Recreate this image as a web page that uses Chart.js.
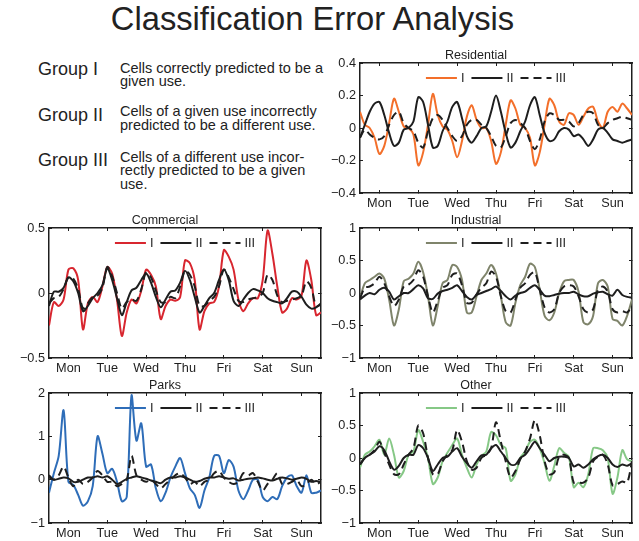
<!DOCTYPE html>
<html>
<head>
<meta charset="utf-8">
<script src="https://cdn.jsdelivr.net/npm/chart.js@4.4.1/dist/chart.umd.min.js"></script>
<style>
	body { margin: 0; width: 639px; height: 541px; background: #fff; position: relative; overflow: hidden;
		font-family: "Liberation Sans", Arial, sans-serif; color: #222; }
	#titulo { position: absolute; left: 0; top: 3px; width: 625px; text-align: center; font-size: 32.7px; line-height: 32.7px; white-space: nowrap; }
	.grupo { position: absolute; left: 38px; font-size: 18px; line-height: 18px; white-space: nowrap; }
	.desc { position: absolute; left: 120px; font-size: 14.5px; line-height: 13.3px; white-space: nowrap; }
	canvas { position: absolute; }
</style>
</head>
<body>
<div id="titulo">Classification Error Analysis</div>

<div class="grupo" style="top:60px">Group I</div>
<div class="desc" style="top:61.6px">Cells correctly predicted to be a<br>given use.</div>
<div class="grupo" style="top:105.5px">Group II</div>
<div class="desc" style="top:105.3px">Cells of a given use incorrectly<br>predicted to be a different use.</div>
<div class="grupo" style="top:150.8px">Group III</div>
<div class="desc" style="top:151px">Cells of a different use incor-<br>rectly predicted to be a given<br>use.</div>

<canvas id="graficoResidencial" width="320" height="180" style="left:315px;top:40px"></canvas>
<canvas id="graficoComercial" width="320" height="180" style="left:4px;top:205px"></canvas>
<canvas id="graficoIndustrial" width="320" height="180" style="left:315px;top:205px"></canvas>
<canvas id="graficoParques" width="320" height="180" style="left:4px;top:370px"></canvas>
<canvas id="graficoOutros" width="320" height="180" style="left:315px;top:370px"></canvas>

<script>
// horas desde segunda 00:00, amostradas de 3 em 3
var horas = [0,3,6,9,12,15,18,21,24,27,30,33,36,39,42,45,48,51,54,57,60,63,66,69,72,75,78,81,84,87,
	90,93,96,99,102,105,108,111,114,117,120,123,126,129,132,135,138,141,144,147,150,153,156,159,162,165,168];
var horasRotulos = [12, 36, 60, 84, 108, 132, 156];
var diasSemana = ['Mon', 'Tue', 'Wed', 'Thu', 'Fri', 'Sat', 'Sun'];
var nomesGrupos = ['I', 'II', 'III'];

var ticksResidencial = [-0.4, -0.2, 0, 0.2, 0.4];
var ticksComercial = [-0.5, 0, 0.5];
var ticksIndustrial = [-1, -0.5, 0, 0.5, 1];
var ticksParques = [-1, 0, 1, 2];
var ticksOutros = [-1, -0.5, 0, 0.5, 1];

var residencialI = [0.10,0.02,0.00,-0.06,-0.16,-0.11,0.03,0.18,0.10,0.01,
	0.00,-0.04,-0.23,-0.15,0.02,0.21,0.08,0.01,-0.01,-0.08,
	-0.18,-0.08,0.07,0.14,0.05,0.00,0.00,-0.08,-0.22,-0.15,
	0.02,0.17,0.12,0.02,0.00,-0.06,-0.23,-0.15,0.02,0.18,
	0.14,0.04,0.02,0.09,0.08,0.02,0.07,0.12,0.13,0.04,
	0.00,0.10,0.13,0.10,0.15,0.12,0.08];
var residencialII = [-0.06,0.02,0.10,0.15,0.16,0.08,-0.03,-0.11,-0.09,-0.01,
	0.00,0.04,0.19,0.16,0.02,-0.12,-0.11,-0.02,0.04,0.13,
	0.16,0.06,-0.05,-0.09,-0.05,0.00,0.01,0.10,0.20,0.10,
	-0.03,-0.12,-0.09,-0.02,0.04,0.14,0.19,0.08,-0.03,-0.08,
	-0.07,-0.02,0.00,-0.01,-0.05,-0.04,-0.07,-0.11,-0.07,-0.01,
	0.00,-0.03,-0.07,-0.08,-0.09,-0.08,-0.07];
var residencialIII = [-0.06,-0.01,-0.04,-0.06,-0.07,-0.05,0.02,0.08,0.10,0.03,
	0.00,-0.02,-0.09,-0.12,-0.02,0.06,0.08,0.05,0.00,-0.05,
	-0.08,-0.05,0.02,0.05,0.05,0.02,0.00,-0.05,-0.11,-0.12,
	-0.05,0.03,0.05,0.03,0.00,-0.08,-0.13,-0.07,0.04,0.09,
	0.08,0.05,0.05,0.04,0.01,0.03,0.08,0.10,0.09,0.02,
	0.00,0.03,0.05,0.06,0.07,0.06,0.05];

var comercialI = [-0.25,-0.07,-0.10,-0.05,0.18,0.19,0.10,-0.28,-0.08,-0.03,
	-0.07,0.05,0.20,0.15,-0.05,-0.33,-0.15,-0.05,-0.08,0.02,
	0.18,0.14,0.05,-0.20,-0.10,-0.05,-0.06,-0.03,0.25,0.23,
	0.10,-0.28,-0.14,-0.08,-0.07,0.05,0.33,0.28,0.18,-0.05,
	-0.14,-0.08,-0.04,-0.04,0.10,0.48,0.30,0.05,-0.15,-0.12,
	-0.04,-0.05,-0.02,0.25,0.10,-0.17,-0.15];
var comercialII = [-0.10,0.01,0.01,0.04,0.12,0.09,0.00,-0.14,-0.10,-0.04,
	0.00,0.06,0.19,0.10,-0.04,-0.17,-0.07,0.02,0.04,0.10,
	0.15,0.08,-0.03,-0.11,-0.05,0.01,0.02,0.08,0.17,0.10,
	-0.03,-0.15,-0.10,-0.04,0.00,0.10,0.18,0.10,-0.06,-0.10,
	-0.05,0.00,0.03,0.02,0.00,-0.04,-0.06,-0.07,-0.08,-0.04,
	0.01,0.01,-0.03,-0.09,-0.12,-0.11,-0.08];
var comercialIII = [-0.08,-0.04,-0.03,0.03,0.12,0.11,0.03,-0.12,-0.08,-0.03,
	-0.02,0.04,0.20,0.13,0.00,-0.12,-0.07,-0.05,-0.06,0.03,
	0.16,0.12,0.02,-0.07,-0.07,-0.03,-0.04,0.05,0.17,0.14,
	0.05,-0.10,-0.10,-0.06,-0.03,0.05,0.18,0.12,0.03,-0.06,
	-0.07,-0.05,-0.04,-0.03,0.00,0.14,0.10,-0.02,-0.07,-0.06,
	-0.05,-0.04,-0.02,0.09,0.04,-0.10,-0.09];

var industrialI = [-0.08,0.15,0.20,0.25,0.30,0.22,-0.10,-0.50,-0.25,0.18,
	0.22,0.30,0.48,0.32,-0.05,-0.50,-0.20,0.15,0.20,0.43,
	0.40,0.20,-0.30,-0.30,-0.05,0.20,0.30,0.43,0.30,-0.05,
	-0.45,-0.50,-0.15,0.12,0.25,0.45,0.40,0.05,-0.35,-0.42,
	-0.30,0.00,0.18,0.20,0.20,0.02,-0.45,-0.48,-0.35,0.15,
	0.20,0.10,-0.40,-0.43,-0.50,-0.35,-0.10];
var industrialII = [-0.10,-0.04,0.00,-0.02,0.05,0.08,0.02,-0.10,-0.05,0.00,
	0.00,0.06,0.12,0.07,-0.08,-0.09,-0.01,0.03,0.05,0.08,
	0.12,0.03,-0.06,-0.10,-0.03,0.00,0.03,0.06,0.10,0.03,
	-0.05,-0.10,-0.04,0.00,0.02,0.08,0.12,0.05,-0.04,-0.05,
	-0.03,-0.01,0.00,0.00,0.02,-0.02,-0.05,-0.05,-0.01,0.01,
	0.02,-0.02,-0.04,0.05,-0.03,-0.06,-0.07];
var industrialIII = [-0.08,0.08,0.10,0.15,0.25,0.15,-0.05,-0.20,-0.10,0.10,
	0.13,0.20,0.35,0.25,-0.05,-0.30,-0.12,0.08,0.12,0.28,
	0.30,0.12,-0.15,-0.15,-0.02,0.08,0.15,0.33,0.25,-0.05,
	-0.28,-0.30,-0.10,0.08,0.15,0.28,0.32,0.05,-0.22,-0.30,
	-0.25,0.00,0.10,0.12,0.10,-0.05,-0.25,-0.30,-0.25,0.05,
	0.10,0.02,-0.25,-0.30,-0.28,-0.30,-0.20];

var parquesI = [-0.30,0.15,0.55,1.60,-0.05,-0.12,-0.35,-0.60,-0.50,-0.15,
	1.00,0.60,0.15,0.25,-0.05,-0.50,-0.40,1.95,0.90,1.30,
	0.30,0.35,-0.20,-0.50,-0.30,0.05,0.30,0.50,0.15,-0.20,
	-0.35,-0.65,-0.25,0.05,0.55,0.55,0.15,0.45,0.30,-0.25,
	-0.45,-0.25,0.00,0.00,-0.40,-0.50,-0.40,-0.45,-0.15,0.05,
	0.10,-0.15,-0.30,0.10,-0.30,-0.30,-0.25];
var parquesII = [0.05,0.00,0.02,0.05,0.03,-0.05,-0.05,0.00,0.05,0.05,
	0.08,0.05,0.08,0.00,-0.10,-0.05,0.02,0.05,0.08,0.05,
	0.02,-0.02,-0.05,-0.08,0.00,0.05,0.05,0.08,0.05,0.00,
	-0.05,-0.03,0.02,0.05,0.05,0.08,0.05,0.02,0.03,-0.02,
	0.00,0.02,0.03,0.05,0.03,0.00,-0.02,0.02,0.05,0.03,
	0.00,0.02,0.05,0.02,-0.05,-0.03,-0.05];
var parquesIII = [0.10,0.00,0.10,0.30,0.05,-0.15,0.00,-0.10,-0.05,0.05,
	0.20,0.10,-0.05,-0.05,-0.15,-0.10,0.00,0.55,0.10,0.00,
	-0.05,0.00,-0.10,-0.20,-0.10,0.00,0.10,0.15,0.05,-0.10,
	-0.05,-0.15,-0.05,0.00,0.15,0.20,0.05,-0.05,-0.10,-0.05,
	0.15,0.10,0.15,-0.05,-0.25,-0.10,0.00,0.15,-0.10,-0.10,
	-0.05,0.00,-0.15,-0.10,0.00,-0.10,-0.05];

var outrosI = [-0.15,0.05,0.10,0.18,0.28,0.05,0.30,0.05,-0.30,-0.20,
	0.05,0.10,0.43,0.25,0.00,-0.40,-0.30,-0.05,0.08,0.20,
	0.30,0.05,-0.15,-0.30,-0.10,0.03,0.10,0.40,0.35,0.20,
	0.15,-0.35,-0.25,0.00,0.10,0.25,0.28,0.15,-0.08,-0.35,
	-0.12,0.15,0.08,0.02,-0.45,-0.38,-0.45,-0.25,0.15,0.15,
	0.12,0.00,-0.55,-0.30,0.12,-0.02,-0.05];
var outrosII = [-0.10,0.00,0.05,0.10,0.18,0.12,-0.05,-0.18,-0.12,0.00,
	0.05,0.05,0.20,0.15,0.00,-0.20,-0.10,0.00,0.02,0.10,
	0.15,0.02,-0.08,-0.15,-0.05,0.04,0.05,0.15,0.20,0.10,
	0.00,-0.10,-0.10,0.00,0.05,0.15,0.25,0.15,0.05,-0.05,
	0.00,0.02,0.02,0.00,-0.13,-0.10,-0.15,-0.10,-0.02,0.03,
	0.05,0.00,-0.10,-0.14,-0.10,-0.12,-0.08];
var outrosIII = [-0.10,0.00,0.05,0.12,0.25,0.08,-0.10,-0.25,-0.25,-0.10,
	0.05,0.15,0.50,0.38,0.00,-0.25,-0.25,-0.05,0.05,0.12,
	0.43,0.25,-0.05,-0.18,-0.15,0.00,0.05,0.15,0.55,0.25,
	-0.05,-0.30,-0.20,-0.02,0.10,0.30,0.58,0.35,-0.05,-0.25,
	-0.22,0.02,0.05,0.00,-0.38,-0.38,-0.38,-0.30,-0.05,0.02,
	0.05,-0.10,-0.42,-0.40,-0.36,-0.38,-0.05];

var Erro = Erro || {};

Erro.Painel = (function() {

	var PRETO = '#1e1e1e';
	var FONTE = '"Liberation Sans", Arial, sans-serif';

	// legenda desenhada dentro da area do grafico, como no matlab
	var legendaInterna = {
		id: 'legendaInterna',
		afterDatasetsDraw: function(chart) {
			var ctx = chart.ctx, area = chart.chartArea;
			var ds = chart.data.datasets;
			var linha = 31, folgaTexto = 4, folgaItem = 7;
			ctx.save();
			ctx.font = '12.7px ' + FONTE;
			var total = 0;
			ds.forEach(function(d, i) {
				total += linha + folgaTexto + ctx.measureText(d.label).width + (i < ds.length - 1 ? folgaItem : 0);
			});
			var x = (area.left + area.right) / 2 - total / 2;
			var y = area.top + 15;
			ds.forEach(function(d) {
				ctx.strokeStyle = d.borderColor;
				ctx.lineWidth = d.borderWidth;
				ctx.setLineDash(d.borderDash || []);
				ctx.beginPath();
				ctx.moveTo(x, y);
				ctx.lineTo(x + linha, y);
				ctx.stroke();
				x += linha + folgaTexto;
				ctx.fillStyle = PRETO;
				ctx.textBaseline = 'middle';
				ctx.fillText(d.label, x, y + 0.5);
				x += ctx.measureText(d.label).width + folgaItem;
			});
			ctx.restore();
		}
	};

	function Painel(idCanvas, titulo, cor, series, ticksY) {
		this.ctx = document.getElementById(idCanvas).getContext('2d');
		this.titulo = titulo;
		this.cor = cor;
		this.series = series;
		this.ticksY = ticksY;
	}

	Painel.prototype.iniciar = function() {
		new Chart(this.ctx, {
			type: 'line',
			data: {
				datasets: [
					serie(nomesGrupos[0], this.series[0], this.cor, [], 3),
					serie(nomesGrupos[1], this.series[1], PRETO, [], 2),
					serie(nomesGrupos[2], this.series[2], PRETO, [8, 5], 1)
				]
			},
			options: {
				responsive: false,
				animation: false,
				layout: { padding: { left: 5, right: 3, top: 0, bottom: 0 } },
				plugins: {
					legend: { display: false },
					tooltip: { enabled: false },
					title: {
						display: true,
						text: this.titulo,
						color: PRETO,
						font: { family: FONTE, size: 12.5, weight: 'normal' },
						padding: { top: 8, bottom: 0 }
					}
				},
				scales: {
					x: escalaX('bottom', true),
					x2: escalaX('top', false),
					y: escalaY('left', true, this.ticksY),
					y2: escalaY('right', false, this.ticksY)
				}
			},
			plugins: [legendaInterna]
		});
	};

	function serie(nome, valores, cor, tracejado, ordem) {
		return {
			label: nome,
			data: valores.map(function(v, i) { return { x: horas[i], y: v }; }),
			borderColor: cor,
			borderWidth: 2,
			borderDash: tracejado,
			pointRadius: 0,
			tension: 0.3,
			fill: false,
			order: ordem
		};
	}

	function grade() {
		return { drawOnChartArea: false, tickLength: -3, color: PRETO, lineWidth: 1 };
	}

	function escalaX(posicao, comRotulos) {
		return {
			type: 'linear',
			position: posicao,
			min: 0,
			max: 168,
			afterBuildTicks: function(escala) {
				escala.ticks = horasRotulos.map(function(h) { return { value: h }; });
			},
			afterFit: function(escala) { escala.height = comRotulos ? 27 : 0; },
			grid: grade(),
			border: { display: true, color: PRETO, width: 1.5 },
			ticks: {
				display: comRotulos,
				autoSkip: false,
				maxRotation: 0,
				padding: 6,
				color: PRETO,
				font: { family: FONTE, size: 12.7 },
				callback: function(v, i) { return diasSemana[i]; }
			}
		};
	}

	function escalaY(posicao, comRotulos, ticksY) {
		return {
			type: 'linear',
			position: posicao,
			min: ticksY[0],
			max: ticksY[ticksY.length - 1],
			afterBuildTicks: function(escala) {
				escala.ticks = ticksY.map(function(v) { return { value: v }; });
			},
			afterFit: function(escala) { escala.width = comRotulos ? 40 : 0; },
			grid: grade(),
			border: { display: true, color: PRETO, width: 1.5 },
			ticks: {
				display: comRotulos,
				padding: 7,
				color: PRETO,
				font: { family: FONTE, size: 12.7 },
				callback: function(v) {
					if (Math.abs(v) < 1e-9) return '0';
					return (v < 0 ? '\u2212' : '') + String(+Math.abs(v).toFixed(2));
				}
			}
		};
	}

	return Painel;

}());

(function() {
	new Erro.Painel('graficoResidencial', 'Residential', '#f36f2a',
		[residencialI, residencialII, residencialIII], ticksResidencial).iniciar();
	new Erro.Painel('graficoComercial', 'Commercial', '#d8262f',
		[comercialI, comercialII, comercialIII], ticksComercial).iniciar();
	new Erro.Painel('graficoIndustrial', 'Industrial', '#7f846b',
		[industrialI, industrialII, industrialIII], ticksIndustrial).iniciar();
	new Erro.Painel('graficoParques', 'Parks', '#2e6db8',
		[parquesI, parquesII, parquesIII], ticksParques).iniciar();
	new Erro.Painel('graficoOutros', 'Other', '#86c886',
		[outrosI, outrosII, outrosIII], ticksOutros).iniciar();
}());
</script>
</body>
</html>
